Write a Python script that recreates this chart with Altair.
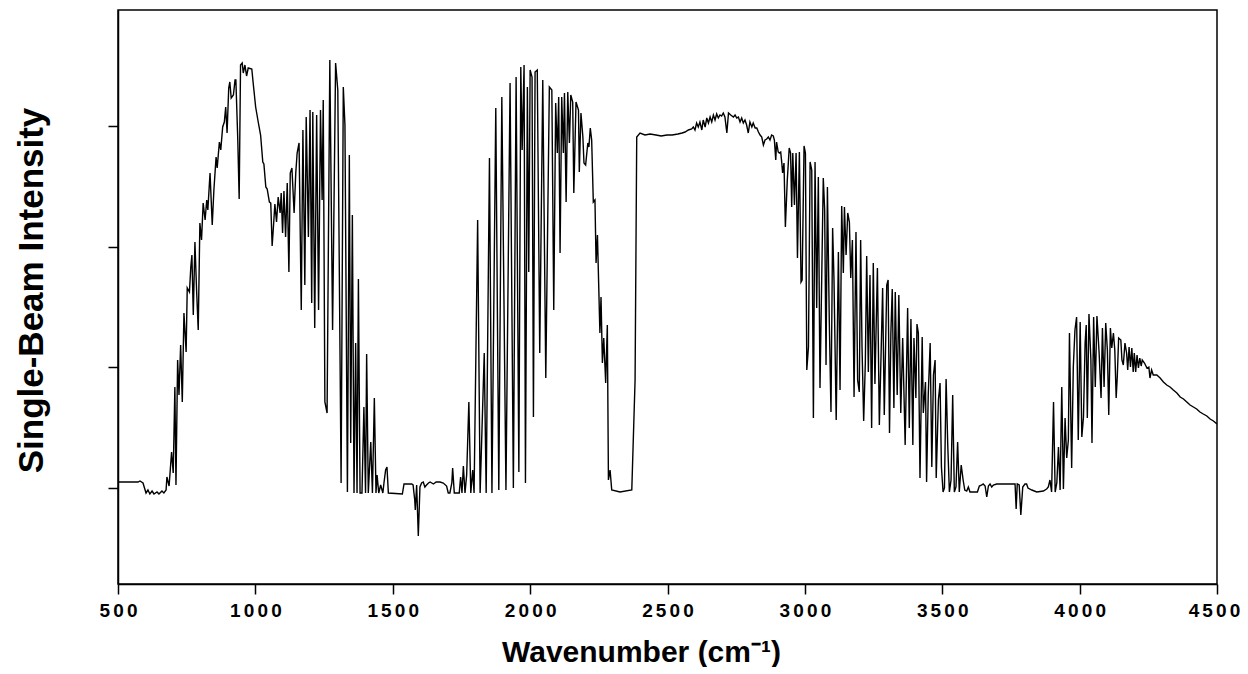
import altair as alt
import pandas as pd

# Wavenumber (cm^-1) and single-beam intensity (arbitrary units)
WAVENUMBER = [
    500, 573, 580, 591, 602, 609, 616, 624, 631, 642, 649, 660, 667, 675, 678, 686, 695, 701, 707, 711,
    717, 722, 728, 734, 740, 748, 752, 760, 765, 769, 774, 780, 786, 792, 798, 804, 810, 817, 823, 827,
    835, 843, 849, 857, 861, 869, 874, 881, 887, 892, 897, 903, 907, 912, 920, 926, 929, 936, 941, 946,
    952, 956, 962, 968, 974, 987, 992, 1001, 1011, 1019, 1027, 1031, 1038, 1043, 1051, 1056, 1061, 1065,
    1071, 1077, 1083, 1090, 1094, 1099, 1104, 1110, 1116, 1122, 1127, 1133, 1141, 1147, 1152, 1159, 1167,
    1173, 1180, 1185, 1193, 1199, 1205, 1209, 1216, 1223, 1230, 1237, 1243, 1247, 1253, 1261, 1271, 1281,
    1292, 1300, 1312, 1320, 1326, 1335, 1342, 1347, 1353, 1359, 1365, 1370, 1375, 1381, 1388, 1395, 1401,
    1405, 1411, 1420, 1426, 1433, 1439, 1443, 1449, 1456, 1464, 1468, 1474, 1479, 1484, 1535, 1541, 1569,
    1574, 1580, 1582, 1587, 1593, 1599, 1605, 1611, 1617, 1623, 1630, 1636, 1648, 1658, 1672, 1684, 1696,
    1702, 1708, 1715, 1718, 1724, 1742, 1747, 1752, 1757, 1763, 1769, 1777, 1784, 1791, 1796, 1809, 1818,
    1833, 1840, 1852, 1861, 1875, 1886, 1897, 1912, 1927, 1939, 1949, 1959, 1966, 1971, 1978, 1983, 1990,
    1995, 2000, 2007, 2012, 2018, 2026, 2035, 2046, 2057, 2070, 2079, 2086, 2093, 2099, 2104, 2109, 2115,
    2121, 2125, 2131, 2137, 2143, 2148, 2155, 2159, 2167, 2176, 2179, 2185, 2192, 2196, 2202, 2210, 2214,
    2219, 2224, 2230, 2236, 2240, 2245, 2254, 2258, 2263, 2268, 2275, 2281, 2285, 2291, 2297, 2327, 2370,
    2382, 2388, 2400, 2418, 2437, 2458, 2477, 2498, 2517, 2538, 2553, 2564, 2576,
    2588, 2594, 2600, 2606, 2612, 2618, 2625, 2630, 2637, 2643, 2649, 2655, 2661, 2667, 2673, 2679, 2685,
    2691, 2697, 2703, 2709, 2716, 2722, 2730, 2740, 2746, 2752, 2758, 2764, 2770, 2776, 2782, 2788, 2794,
    2800, 2807, 2812, 2819, 2825, 2831, 2837, 2843, 2849, 2855, 2861, 2867, 2873, 2879, 2885, 2889, 2894,
    2897, 2903, 2907, 2912, 2916, 2919, 2924, 2929, 2936, 2943, 2948, 2952, 2956, 2962, 2968, 2973, 2980,
    2986, 2990, 2997, 3002, 3007, 3013, 3019, 3025, 3031, 3037, 3043, 3049,
    3055, 3067, 3072, 3077, 3082, 3089, 3095, 3101, 3106, 3114, 3122, 3128, 3134, 3140, 3144, 3150, 3156,
    3162, 3167, 3173, 3179, 3186, 3192, 3198, 3203, 3208, 3214, 3220, 3225, 3231, 3237, 3243, 3249, 3255,
    3264, 3271, 3278, 3283, 3289, 3298, 3303, 3308, 3313, 3318, 3324, 3329, 3336, 3342, 3349, 3356, 3365,
    3374, 3380, 3386, 3393, 3397, 3404, 3408, 3413, 3419, 3427, 3431, 3439, 3443, 3449, 3456, 3462, 3468,
    3474, 3478, 3486, 3492, 3497, 3503, 3508, 3514, 3520, 3526, 3532, 3538, 3544, 3550, 3556, 3562, 3569,
    3576, 3582, 3589, 3595, 3601, 3628, 3635, 3644, 3649, 3656, 3662, 3668, 3674, 3680, 3686, 3698, 3765,
    3769, 3773, 3780, 3786, 3793, 3801, 3807, 3812, 3826, 3844, 3868, 3880, 3886, 3892, 3898, 3905, 3911,
    3917, 3923, 3929, 3935, 3941, 3947, 3953, 3959, 3963, 3971, 3977, 3983, 3989, 3995, 4002, 4008, 4014,
    4020, 4024, 4028, 4034, 4041, 4045, 4051, 4057, 4063, 4071, 4078, 4083, 4089, 4095, 4101, 4106, 4112,
    4117, 4123, 4128, 4133, 4137, 4142, 4150, 4154, 4159, 4165, 4171, 4175, 4180, 4185, 4190, 4195, 4199,
    4204, 4209, 4214, 4219, 4224, 4228, 4236, 4245, 4252, 4256, 4262, 4268, 4281, 4293, 4305, 4317, 4329,
    4341, 4354, 4366, 4378, 4390, 4402, 4414, 4426, 4438, 4450, 4463, 4475, 4487, 4500,
]

INTENSITY = [
    102, 102, 103, 101, 91, 94, 90, 93, 90, 92, 90, 93, 91, 94, 107, 98, 132, 111, 197, 99,
    224, 189, 239, 182, 271, 232, 296, 292, 317, 329, 269, 342, 294, 254, 361, 344, 381, 364, 384, 374,
    411, 359, 394, 427, 416, 442, 434, 457, 462, 477, 451, 496, 502, 486, 489, 504, 504, 444, 385, 519,
    521, 511, 519, 508, 516, 515, 501, 477, 461, 449, 422, 420, 397, 395, 382, 381, 338, 354,
    380, 362, 387, 371, 391, 351, 393, 347, 401, 312, 411, 416, 371, 411, 431, 441, 274,
    454, 299, 467, 347, 474, 281, 472, 256, 469, 274, 474, 384, 484, 182, 171, 524, 254,
    521, 494, 101, 497, 459, 92, 429, 141, 369, 91, 241, 91, 305, 91, 91, 177, 91,
    230, 91, 142, 91, 186, 91, 109, 91, 99, 91, 101, 114, 117, 91, 90, 100, 100,
    99, 84, 74, 99, 48, 97, 101, 102, 97, 99, 101, 102, 100, 102, 102, 101, 98,
    91, 91, 101, 116, 91, 91, 107, 91, 118, 91, 109, 182, 91, 114, 91, 364, 91,
    231, 91, 426, 91, 476, 94, 487, 94, 501, 96, 507, 112, 517, 434, 519, 101, 497,
    312, 514, 507, 167, 512, 514, 231, 504, 206, 497, 494, 274, 481, 431, 487, 331, 487,
    431, 491, 382, 492, 441, 489, 482, 391, 482, 474, 412, 471, 447, 421, 419, 441, 437,
    456, 444, 382, 384, 321, 349, 251, 287, 221, 246, 201, 259, 104, 114, 94, 92, 94,
    204, 447, 451, 449, 450, 449, 448, 449, 449, 450, 451, 452, 454,
    455, 457, 454, 461, 457, 462, 454, 464, 457, 466, 461, 467, 462, 469, 464, 470, 466,
    469, 468, 471, 467, 451, 471, 469, 467, 469, 466, 467, 462, 466, 461, 464, 459, 451,
    462, 457, 461, 456, 456, 452, 449, 447, 439, 444, 445, 447, 444, 449, 448, 444, 424,
    442, 432, 431, 432, 421, 411, 421, 357, 404, 436, 431, 377, 431, 379, 431, 326, 432,
    302, 304, 438, 431, 214, 237, 422, 414, 166, 422, 276, 407,
    196, 406, 374, 219, 397, 261, 172, 356, 304, 164, 332, 194, 378, 311, 377, 329, 371,
    362, 306, 344, 187, 352, 204, 192, 344, 237, 163, 221, 328, 212, 309, 156, 321, 200,
    316, 159, 237, 296, 169, 299, 304, 151, 251, 295, 176, 292, 189, 289, 171, 246, 139,
    276, 156, 265, 139, 246, 186, 260, 251, 106, 247, 171, 202, 102, 189, 241, 117, 209,
    224, 106, 184, 201, 117, 92, 96, 205, 139, 92, 104, 189, 92, 97, 142, 92, 119,
    104, 94, 93, 97, 92, 92, 98, 99, 100, 98, 87, 98, 100, 97, 99, 100, 100,
    75, 100, 99, 69, 97, 100, 100, 96, 94, 92, 93, 95, 97, 104, 92, 182, 92,
    101, 137, 94, 197, 95, 166, 126, 144, 251, 116, 217, 254, 267, 144, 262, 147, 167,
    241, 259, 166, 270, 224, 141, 267, 197, 268, 231, 186, 256, 197, 261, 234, 169, 256,
    236, 251, 234, 186, 207, 246, 244, 224, 219, 241, 231, 214, 237, 217, 236, 212, 231,
    212, 229, 216, 226, 218, 224, 221, 216, 217, 206, 214, 209, 209, 206, 202, 199, 197,
    194, 191, 187, 185, 182, 179, 177, 175, 172, 170, 168, 165, 163, 160,
]

X_TICKS = [500, 1000, 1500, 2000, 2500, 3000, 3500, 4000, 4500]
Y_TICKS = [96, 216.7, 337.3, 458]

df = pd.DataFrame({"wavenumber": WAVENUMBER, "intensity": INTENSITY})

FONT = "Liberation Sans"

chart = (
    alt.Chart(df)
    .mark_line(color="black", strokeWidth=1.4, clip=True)
    .encode(
        x=alt.X(
            "wavenumber:Q",
            scale=alt.Scale(domain=[500, 4500], nice=False, zero=False),
            axis=alt.Axis(
                values=X_TICKS,
                format="d",
                grid=False,
                tickSize=10,
                labelFont=FONT,
                labelFontWeight="bold",
                labelFontSize=19,
                labelPadding=7,
                labelFlush=False,
                labelOverlap=False,
                labelOffset={"condition": {"test": "datum.value == 4500", "value": -3}, "value": 0},
                labelExpr="join(split(datum.label, ''), '\u2006')",
                title="Wavenumber (cm\u207b\u00b9)",
                titleFont=FONT,
                titleFontSize=30,
                titleFontWeight="bold",
                titleX=523,
                titleY=77,
                titleAlign="center",
                titleBaseline="alphabetic",
            ),
        ),
        y=alt.Y(
            "intensity:Q",
            scale=alt.Scale(domain=[0, 574], nice=False, zero=False),
            axis=alt.Axis(
                values=Y_TICKS,
                labels=False,
                grid=False,
                tickSize=10,
                title="Single-Beam Intensity",
                titleFont=FONT,
                titleFontSize=35,
                titleFontWeight="bold",
                titleAngle=-90,
                titleX=-87,
                titleY=280,
                titleAlign="center",
                titleBaseline="middle",
            ),
        ),
    )
    .properties(
        width=1099,
        height=574,
        autosize=alt.AutoSizeParams(type="none"),
        padding={"left": 110, "top": 2, "right": 23, "bottom": 83},
    )
    .configure_view(stroke="black", strokeWidth=1.5)
    .configure_axis(
        domainColor="black",
        domainWidth=1.5,
        tickColor="black",
        tickWidth=1.5,
        labelColor="black",
        titleColor="black",
    )
)

chart.save("out.html", embed_options={"renderer": "svg", "actions": False})
